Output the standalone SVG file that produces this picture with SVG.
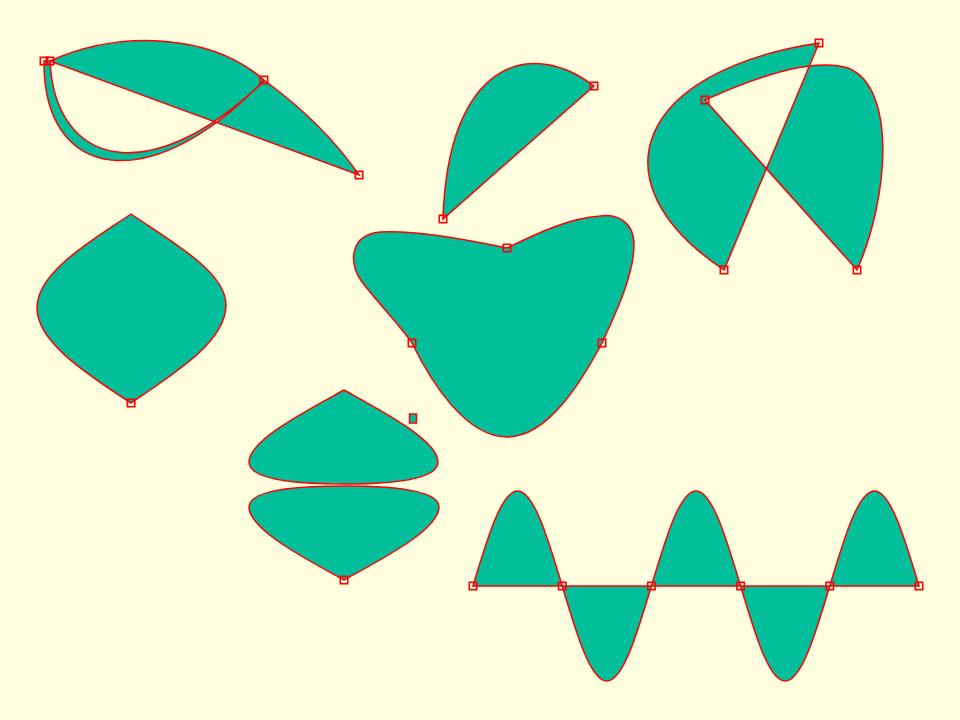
<svg xmlns="http://www.w3.org/2000/svg" xmlns:xlink="http://www.w3.org/1999/xlink" width="960" height="720" viewBox="0 0 960 720">
<style>
.shape{fill:#00BF9A;stroke:#FF0000;stroke-width:1.5;fill-rule:evenodd;stroke-linejoin:miter}
.mk{fill:none;stroke:#FF0000;stroke-width:1.6}
</style>
<defs>
<rect id="mk" class="mk" x="-3.7" y="-3.7" width="7.4" height="7.4"/>
</defs>
<rect width="960" height="720" fill="#FFFFE0"/>
<g id="shape-leaf">
<path class="shape" d="M 50,61 C 120,30 210,33 264,80 Q 325,125 359,175 L 50,61 C 55,165 148,192 263,82 L 264,80 C 152,198 43,182 44,61 Z"/>
<use href="#mk" x="44" y="61"/><use href="#mk" x="50" y="61"/><use href="#mk" x="264" y="80"/><use href="#mk" x="359" y="175"/>
</g>
<g id="shape-drop">
<path class="shape" d="M 443,219 C 448,60 532,38 594,86 Z"/>
<use href="#mk" x="443" y="219"/><use href="#mk" x="594" y="86"/>
</g>
<g id="shape-cross">
<path class="shape" d="M 819,43 C 640,70 590,180 724,270 Z M 705,100 C 760,75 815,58 848,68 C 898,88 888,200 857,270 Z"/>
<use href="#mk" x="705" y="100"/><use href="#mk" x="819" y="43"/><use href="#mk" x="724" y="270"/><use href="#mk" x="857" y="270"/>
</g>
<g id="shape-lemon">
<path class="shape" d="M 131,403 C 80,370 37,340 37,308 C 37,272 90,242 131,214 C 172,242 226,272 226,305 C 226,340 180,370 131,403 Z"/>
<use href="#mk" x="131" y="403"/>
</g>
<g id="shape-heart">
<path class="shape" d="M 507,248 C 460,238 410,230 380,232 C 350,235 348,262 362,282 C 378,303 400,325 412,343 C 430,380 465,437 507,437 C 550,437 585,375 602,343 C 615,315 634,275 634,245 C 634,220 615,214 600,216 C 570,218 540,232 507,248 Z"/>
<use href="#mk" x="507" y="248"/><use href="#mk" x="412" y="343"/><use href="#mk" x="602" y="343"/>
</g>
<g id="shape-double">
<path class="shape" d="M 344,390 C 380,410 438,440 438,462 C 438,480 390,484 344,484 C 298,484 249,480 249,462 C 249,440 308,410 344,390 Z M 344,486 C 390,486 439,490 439,507 C 439,530 380,560 344,580 C 308,560 249,530 249,507 C 249,490 298,486 344,486 Z"/>
<rect x="409.5" y="414" width="7" height="9" fill="#00BF9A" stroke="#FF0000" stroke-width="1.5"/>
<use href="#mk" x="344" y="580"/>
</g>
<g id="shape-wave">
<path class="shape" d="M 473,586 c 14.9,-49.9 28.6,-95 44.6,-95 c 16,0 29.7,45.1 44.6,95 c 14.9,49.9 28.6,95 44.6,95 c 16,0 29.7,-45.1 44.6,-95 c 14.9,-49.9 28.6,-95 44.6,-95 c 16,0 29.7,45.1 44.6,95 c 14.9,49.9 28.6,95 44.6,95 c 16,0 29.7,-45.1 44.6,-95 c 14.9,-49.9 28.6,-95 44.6,-95 c 16,0 29.7,45.1 44.6,95 Z"/>
<use href="#mk" x="473" y="586"/><use href="#mk" x="562.2" y="586"/><use href="#mk" x="651.4" y="586"/><use href="#mk" x="740.6" y="586"/><use href="#mk" x="829.8" y="586"/><use href="#mk" x="919" y="586"/>
</g>
<g id="connectors"/>
</svg>
